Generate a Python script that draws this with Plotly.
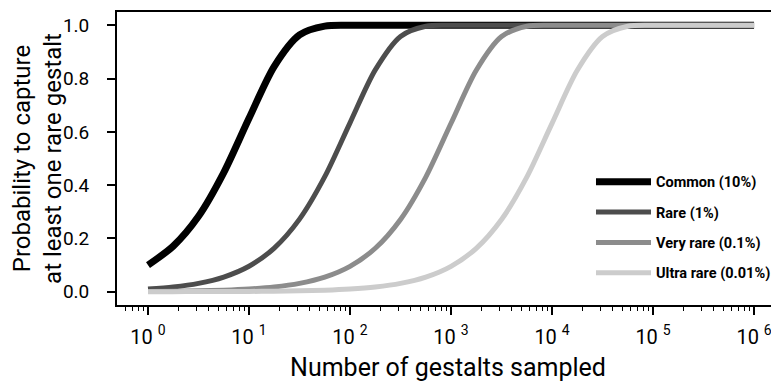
import plotly.graph_objects as go

# number of gestalts sampled (log-spaced)
n_sampled = [1, 1.778, 3.162, 5.623, 10, 17.78, 31.62, 56.23, 100, 177.8, 316.2, 562.3,
             1000, 1778, 3162, 5623, 10000, 17783, 31623, 56234, 100000, 177828, 316228,
             562341, 1000000]

common = [0.100, 0.171, 0.283, 0.447, 0.651, 0.846, 0.964, 0.997, 1.000, 1.000, 1.000, 1.000,
          1.000, 1.000, 1.000, 1.000, 1.000, 1.000, 1.000, 1.000, 1.000, 1.000, 1.000, 1.000, 1.000]
rare = [0.0100, 0.0177, 0.0313, 0.0550, 0.0956, 0.1637, 0.2723, 0.4317, 0.6340, 0.8326, 0.9583,
        0.9965, 1.000, 1.000, 1.000, 1.000, 1.000, 1.000, 1.000, 1.000, 1.000, 1.000, 1.000, 1.000, 1.000]
very_rare = [0.0010, 0.0018, 0.0032, 0.0056, 0.0100, 0.0176, 0.0312, 0.0547, 0.0952, 0.1630,
             0.2712, 0.4303, 0.6323, 0.8312, 0.9577, 0.9964, 1.000, 1.000, 1.000, 1.000, 1.000,
             1.000, 1.000, 1.000, 1.000]
ultra_rare = [0.0001, 0.0002, 0.0003, 0.0006, 0.0010, 0.0018, 0.0032, 0.0056, 0.0100, 0.0176,
              0.0311, 0.0547, 0.0952, 0.1629, 0.2711, 0.4302, 0.6321, 0.8311, 0.9577, 0.9964,
              1.000, 1.000, 1.000, 1.000, 1.000]

series_names = ["Common (10%)", "Rare (1%)", "Very rare (0.1%)", "Ultra rare (0.01%)"]
series_values = [common, rare, very_rare, ultra_rare]
colors = ["#000000", "#4d4d4d", "#8c8c8c", "#cccccc"]
widths = [7, 5, 5, 5]

x_tickvals = [1, 10, 100, 1000, 10000, 100000, 1000000]
x_ticktext = ["10 <sup>0</sup>", "10 <sup>1</sup>", "10 <sup>2</sup>", "10 <sup>3</sup>",
              "10 <sup>4</sup>", "10 <sup>5</sup>", "10 <sup>6</sup>"]
minor_vals = [m * 10 ** k for k in range(-1, 6) for m in range(2, 10) if m * 10 ** k >= 0.6]
y_tickvals = [0.0, 0.2, 0.4, 0.6, 0.8, 1.0]
y_ticktext = ["0.0", "0.2", "0.4", "0.6", "0.8", "1.0"]

FONT = "Roboto, Liberation Sans, sans-serif"
PAD = "\u00a0\u00a0\u00a0"  # spacing between y tick labels and tick marks

fig = go.Figure()
for name, vals, c, w in zip(series_names, series_values, colors, widths):
    fig.add_trace(go.Scatter(x=n_sampled, y=vals, mode="lines", name=name,
                             legendgroup=name,
                             line=dict(color=c, width=w, shape="spline", smoothing=0.8)))

# page body has an 8px default margin: figure is sized/shifted to compensate
fig.update_layout(
    width=771, height=374,
    margin=dict(l=109, r=0, t=3.6, b=76.6, autoexpand=False),
    paper_bgcolor="white", plot_bgcolor="white",
    font=dict(family=FONT, color="black"),
    showlegend=True,
    legend=dict(x=0.716, y=0.475, xanchor="left", yanchor="top",
                font=dict(family=FONT, size=14.5, color="black", weight="bold"),
                itemwidth=55,
                tracegroupgap=8.5, bgcolor="rgba(0,0,0,0)"),
    xaxis=dict(type="log", range=[-0.307, 6.247], automargin=False,
               tickmode="array", tickvals=x_tickvals, ticktext=x_ticktext,
               ticks="outside", ticklen=8, tickwidth=1.5, tickcolor="black",
               ticklabelstandoff=5,
               minor=dict(tickmode="array", tickvals=minor_vals, ticks="outside",
                          ticklen=4.5, tickwidth=1, tickcolor="black", showgrid=False),
               showline=True, linecolor="black", linewidth=1.5, mirror=True,
               showgrid=False, zeroline=False,
               tickfont=dict(size=20),
               title=dict(text="Number of gestalts sampled", font=dict(size=25), standoff=11)),
    yaxis=dict(range=[-0.05, 1.05], tickmode="array", tickvals=y_tickvals,
               ticktext=[t + PAD for t in y_ticktext], automargin=False,
               ticks="outside", ticklen=8, tickwidth=1.5, tickcolor="black",
               showline=True, linecolor="black", linewidth=1.5, mirror=False,
               showgrid=False, zeroline=False,
               tickfont=dict(size=19),
               title=dict(text="Probability to capture<br>at least one rare gestalt",
                          font=dict(size=24), standoff=8)),
)

fig.write_html("out.html")
